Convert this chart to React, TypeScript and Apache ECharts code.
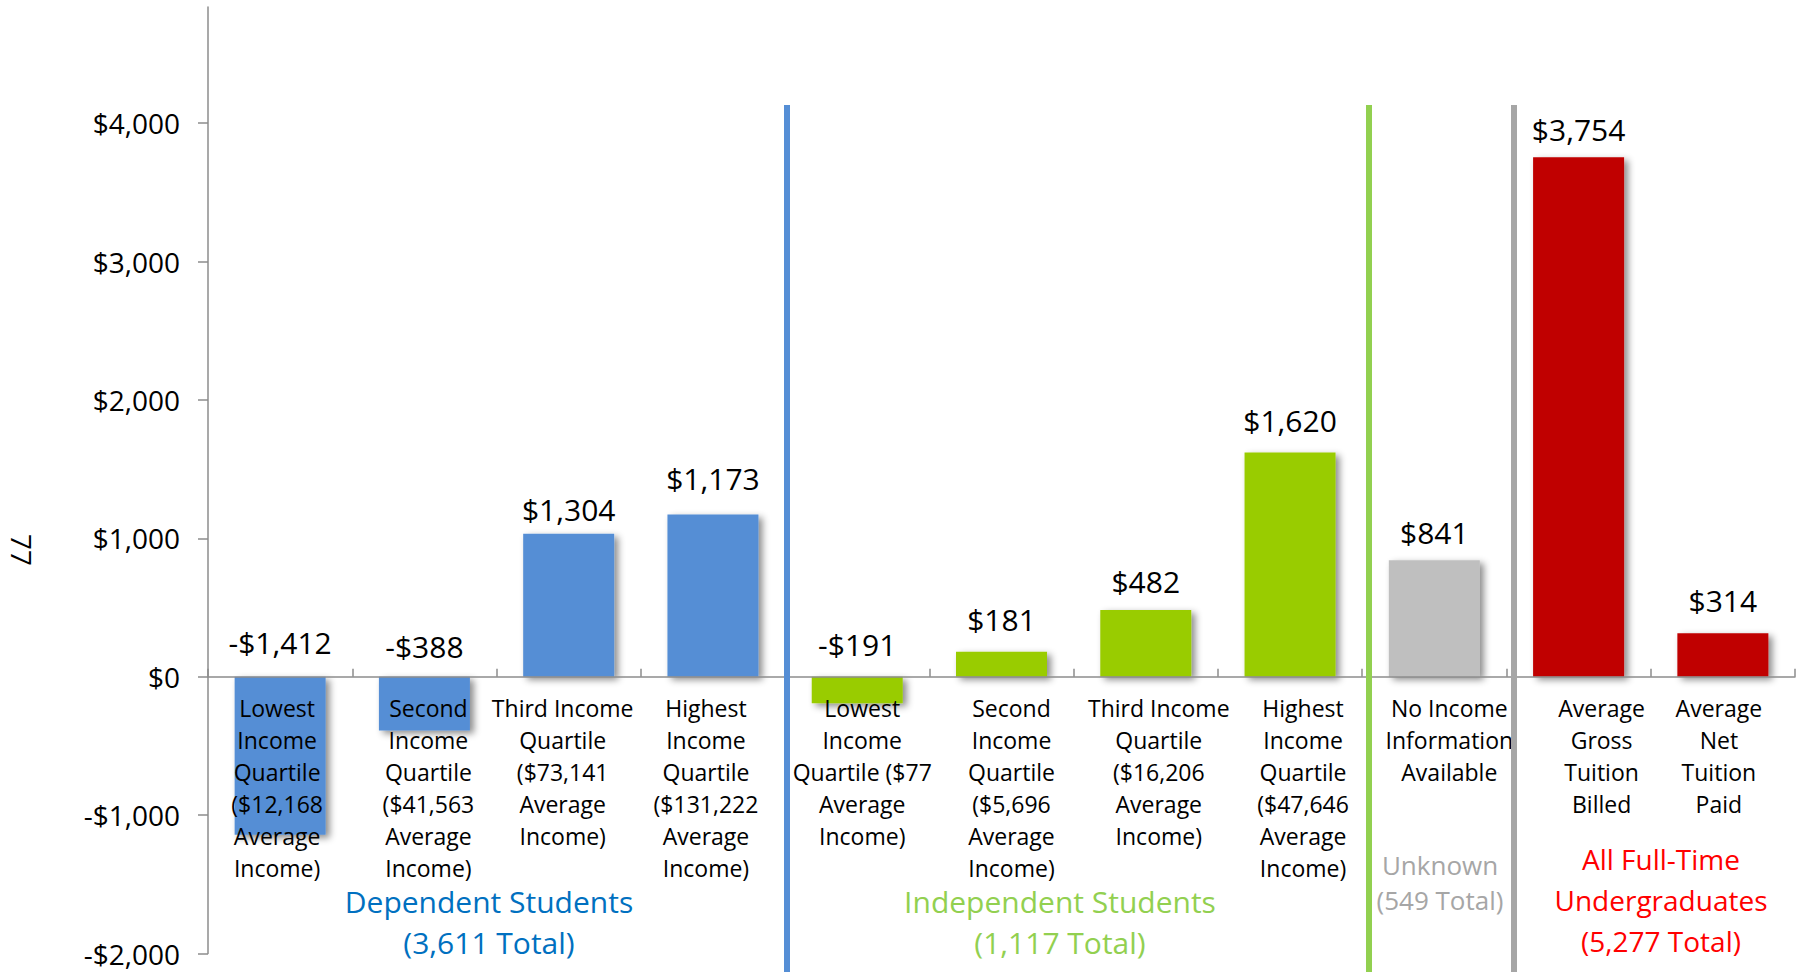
import React, { useEffect, useRef } from 'react';
import * as echarts from 'echarts';

const categories = [
  'Lowest\nIncome\nQuartile\n($12,168\nAverage\nIncome)',
  'Second\nIncome\nQuartile\n($41,563\nAverage\nIncome)',
  'Third Income\nQuartile\n($73,141\nAverage\nIncome)',
  'Highest\nIncome\nQuartile\n($131,222\nAverage\nIncome)',
  'Lowest\nIncome\nQuartile ($77\nAverage\nIncome)',
  'Second\nIncome\nQuartile\n($5,696\nAverage\nIncome)',
  'Third Income\nQuartile\n($16,206\nAverage\nIncome)',
  'Highest\nIncome\nQuartile\n($47,646\nAverage\nIncome)',
  'No Income\nInformation\nAvailable',
  'Average\nGross\nTuition\nBilled',
  'Average\nNet\nTuition\nPaid',
];

// bar heights as drawn in the picture
const barValues = [-1142, -388, 1034, 1173, -191, 181, 482, 1620, 841, 3754, 314];
// value labels as printed in the picture
const valueLabels = ['-$1,412', '-$388', '$1,304', '$1,173', '-$191', '$181', '$482', '$1,620', '$841', '$3,754', '$314'];

const yTicks = [-2000, -1000, 0, 1000, 2000, 3000, 4000];
const yMin = -2000;
const yMax = 4840;

const groupTitles = [
  'Dependent Students\n(3,611 Total)',
  'Independent Students\n(1,117 Total)',
  'Unknown\n(549 Total)',
  'All Full-Time\nUndergraduates\n(5,277 Total)',
];

// styles
const barColors = ['#558ED5', '#558ED5', '#558ED5', '#558ED5', '#99CC00', '#99CC00', '#99CC00', '#99CC00', '#BFBFBF', '#C00000', '#C00000'];
// gap (px) between bar end / zero line and value label centre
const labelGaps = [34, 30, 24, 36, 32, 32, 29, 32, 28, 28, 33];
// horizontal nudge (px) of category label relative to category centre
const catLabelShift = [-3, 4, -6, -7, 5, 10, 13, 13, 15, 23, -4];
const groupColors = ['#0070C0', '#92D050', '#A6A6A6', '#FF0000'];
const groupLayout = [
  { x: 489, y: 922, size: 30, lh: 41 },
  { x: 1060, y: 922, size: 30, lh: 41 },
  { x: 1440, y: 882, size: 26, lh: 35 },
  { x: 1661, y: 900, size: 28, lh: 41 },
];
const separators = [
  { x: 787, color: '#558ED5' },
  { x: 1369, color: '#92D050' },
  { x: 1514, color: '#A6A6A6' },
];

const FONT = 'Open Sans';
const W = 1803;
const H = 972;
const GRID = { left: 208, right: 8, top: 7, bottom: 18.5 };
const VALUE_FONT = 30;

function fmtMoney(v: number): string {
  const s = '$' + Math.abs(v).toLocaleString('en-US');
  return v < 0 ? '-' + s : s;
}

export default function App() {
  const ref = useRef<HTMLDivElement>(null);
  useEffect(() => {
    if (!ref.current) return;
    const chart = echarts.init(ref.current, undefined, { renderer: 'svg' });
    const plotH = H - GRID.top - GRID.bottom;
    const zeroFromBottom = (plotH * (0 - yMin)) / (yMax - yMin);

    const graphics: any[] = [];
    separators.forEach((s) => {
      graphics.push({
        type: 'line',
        z: 20,
        shape: { x1: s.x, y1: 105, x2: s.x, y2: 980 },
        style: { stroke: s.color, lineWidth: 6 },
      });
    });
    groupTitles.forEach((t, i) => {
      const g = groupLayout[i];
      graphics.push({
        type: 'text',
        z: 20,
        x: g.x,
        y: g.y,
        style: {
          text: t,
          fill: groupColors[i],
          font: `${g.size}px "${FONT}"`,
          lineHeight: g.lh,
          align: 'center',
          verticalAlign: 'middle',
        },
      });
    });
    graphics.push({
      type: 'text',
      z: 20,
      x: 22,
      y: 550,
      rotation: -Math.PI / 2,
      style: {
        text: '77',
        fill: '#000',
        font: `28px "${FONT}"`,
        align: 'center',
        verticalAlign: 'middle',
      },
    });

    const catData = categories.map((c, i) => {
      const s = catLabelShift[i];
      const pad = s >= 0 ? [0, 0, 0, 2 * s] : [0, -2 * s, 0, 0];
      return { value: c, textStyle: { padding: pad } };
    });

    chart.setOption({
      animation: false,
      backgroundColor: '#ffffff',
      textStyle: { fontFamily: FONT },
      grid: { ...GRID, containLabel: false, outerBoundsMode: 'none' },
      xAxis: {
        type: 'category',
        data: catData,
        z: 5,
        position: 'bottom',
        offset: -zeroFromBottom,
        boundaryGap: true,
        axisLine: { onZero: false, lineStyle: { color: '#8C8C8C', width: 1.5 } },
        axisTick: { show: true, inside: true, length: 8, interval: 0, lineStyle: { color: '#8C8C8C', width: 1.5 } },
        axisLabel: {
          interval: 0,
          margin: 15,
          color: '#000',
          fontFamily: FONT,
          fontSize: 23,
          lineHeight: 32,
          align: 'center',
        },
        splitLine: { show: false },
      },
      yAxis: {
        type: 'value',
        min: yMin,
        max: yMax,
        axisLine: { show: true, lineStyle: { color: '#8C8C8C', width: 1.5 } },
        axisTick: { show: true, length: 10, customValues: yTicks, lineStyle: { color: '#8C8C8C', width: 1.5 } },
        axisLabel: {
          customValues: yTicks,
          margin: 28,
          color: '#000',
          fontFamily: FONT,
          fontSize: 28,
          formatter: (v: number) => fmtMoney(v),
        },
        splitLine: { show: false },
      },
      series: [
        {
          type: 'bar',
          barWidth: 91,
          z: 2,
          data: barValues.map((v, i) => ({
            value: v,
            itemStyle: {
              color: barColors[i],
              shadowColor: 'rgba(0,0,0,0.45)',
              shadowBlur: 7,
              shadowOffsetX: 4,
              shadowOffsetY: 3,
            },
            label: { distance: labelGaps[i] - VALUE_FONT / 2 },
          })),
          label: {
            show: true,
            position: 'top',
            color: '#000',
            fontFamily: FONT,
            fontSize: VALUE_FONT,
            lineHeight: VALUE_FONT,
            formatter: (p: any) => valueLabels[p.dataIndex],
          },
        },
      ],
      graphic: graphics,
    });
    return () => chart.dispose();
  }, []);
  return (
    <div
      ref={ref}
      style={{ position: 'absolute', left: 0, top: 0, width: W, height: H, background: '#fff' }}
    />
  );
}
